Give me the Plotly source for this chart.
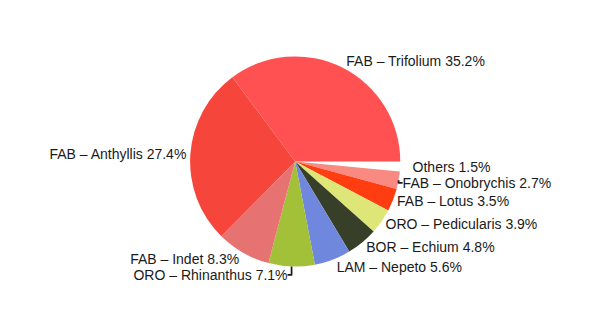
import plotly.graph_objects as go

labels = ["FAB – Trifolium", "FAB – Anthyllis", "FAB – Indet", "ORO – Rhinanthus",
          "LAM – Nepeto", "BOR – Echium", "ORO – Pedicularis", "FAB – Lotus",
          "FAB – Onobrychis", "Others"]
values = [35.2, 27.4, 8.3, 7.1, 5.6, 4.8, 3.9, 3.5, 2.7, 1.5]
colors = ["#FF5152", "#F6463C", "#E77272", "#A3C138", "#6F87DD", "#383F28",
          "#DDE676", "#FF3D11", "#F98A82", "#FFFFFF"]
pulls = [0, 0, 0, 0, 0, 0, 0, 0, 0, 0.08]

# Reference draws the slices counter-clockwise from 3 o'clock; Plotly equivalent:
# reversed order, clockwise from 3 o'clock.
fig = go.Figure(go.Pie(
    labels=labels[::-1],
    values=values[::-1],
    sort=False,
    direction="clockwise",
    rotation=90,
    pull=pulls[::-1],
    domain=dict(x=[0.045, 1.0], y=[0, 1]),
    marker=dict(colors=colors[::-1], line=dict(width=0)),
    textposition="outside",
    texttemplate="%{label} %{percent:.1%}",
    textfont=dict(family="Liberation Sans, Arial, sans-serif", size=14, color="#1a1a1a"),
    showlegend=False,
    hoverinfo="label+percent",
))

fig.update_layout(
    width=600, height=310,
    margin=dict(l=0, r=0, t=48, b=35),
    paper_bgcolor="white",
    plot_bgcolor="white",
)

fig.write_html("out.html")
